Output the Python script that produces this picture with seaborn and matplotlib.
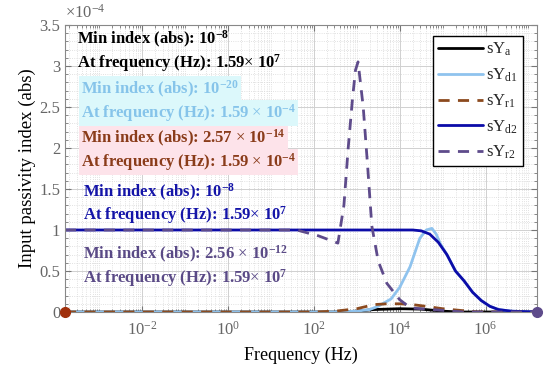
import numpy as np
import pandas as pd
import matplotlib
matplotlib.use('Agg')
import matplotlib.pyplot as plt
import seaborn as sns
from matplotlib.ticker import LogLocator, NullFormatter, MultipleLocator, FixedLocator

# Données (valeurs en unités de 1e-4, fréquences en log10(Hz))
exp_a = [-3.8, 2.5, 3.0, 3.4, 4.0, 4.5, 5.0, 5.4, 7.2]
val_a = [0, 0, 0.01, 0.03, 0.04, 0.035, 0.01, 0, 0]

exp_d1 = [-3.8, 2.5, 3.0, 3.3, 3.5, 3.8, 4.0, 4.24, 4.47, 4.62, 4.75, 4.85, 4.95,
          5.1, 5.3, 5.5, 5.7, 5.9, 6.1, 6.3, 6.6, 7.2]
val_d1 = [0, 0, 0.01, 0.03, 0.07, 0.16, 0.3, 0.55, 0.9, 1.0, 1.02, 0.95, 0.83,
          0.7, 0.5, 0.38, 0.24, 0.14, 0.07, 0.03, 0.01, 0]

exp_r1 = [-3.8, 2.0, 2.5, 3.0, 3.4, 3.7, 4.0, 4.3, 4.6, 5.0, 5.4, 5.8, 7.2]
val_r1 = [0, 0, 0.01, 0.04, 0.09, 0.1, 0.1, 0.09, 0.07, 0.04, 0.02, 0, 0]

exp_d2 = [-3.8, 4.3, 4.5, 4.7, 4.9, 5.1, 5.3, 5.5, 5.7, 5.9, 6.1, 6.3, 6.6, 7.2]
val_d2 = [1.0, 1.0, 0.99, 0.95, 0.85, 0.7, 0.5, 0.38, 0.24, 0.14, 0.07, 0.03, 0.01, 0]

exp_r2 = [-3.8, 1.6, 2.1, 2.56, 2.7, 2.8, 2.9, 2.97, 3.03, 3.15, 3.25, 3.35, 3.5,
          3.7, 4.0, 4.25, 5.0, 5.5, 7.2]
val_r2 = [1.0, 1.0, 0.93, 0.84, 1.3, 2.0, 2.6, 2.95, 3.05, 2.5, 1.8, 1.05, 0.62,
          0.35, 0.15, 0.05, 0.02, 0, 0]

labels = [r'sY$_{\mathrm{a}}$', r'sY$_{\mathrm{d1}}$', r'sY$_{\mathrm{r1}}$',
          r'sY$_{\mathrm{d2}}$', r'sY$_{\mathrm{r2}}$']
colors = ['#000000', '#8fc3ee', '#8c4a1e', '#0c0ca8', '#5e4b8b']
xticks = [1e-2, 1e0, 1e2, 1e4, 1e6]

# Annotations : (texte, couleur, fond)
notes = [
    (r'Min index (abs): 10$^{\mathbf{-8}}$', '#000000', None),
    (r'At frequency (Hz): 1.59$\times$ 10$^{\mathbf{7}}$', '#000000', None),
    (r'Min index (abs): 10$^{\mathbf{-20}}$', '#86c4ea', '#dcf8fb'),
    (r'At frequency (Hz): 1.59 $\times$ 10$^{\mathbf{-4}}$', '#86c4ea', '#dcf8fb'),
    (r'Min index (abs): 2.57 $\times$ 10$^{\mathbf{-14}}$', '#8a3c1a', '#fde3ea'),
    (r'At frequency (Hz): 1.59 $\times$ 10$^{\mathbf{-4}}$', '#8a3c1a', '#fde3ea'),
    (r'Min index (abs): 10$^{\mathbf{-8}}$', '#1414a8', None),
    (r'At frequency (Hz): 1.59$\times$ 10$^{\mathbf{7}}$', '#1414a8', None),
    (r'Min index (abs): 2.56 $\times$ 10$^{\mathbf{-12}}$', '#5a4a86', None),
    (r'At frequency (Hz): 1.59$\times$ 10$^{\mathbf{7}}$', '#5a4a86', None),
]
note_x = [0.025, 0.025, 0.034, 0.034, 0.034, 0.034, 0.038, 0.038, 0.038, 0.038]
note_y = [0.948, 0.868, 0.777, 0.693, 0.606, 0.523, 0.415, 0.338, 0.199, 0.118]

# Configuration
sns.set_style('ticks')
plt.rcParams['font.family'] = ['Liberation Serif', 'DejaVu Serif']
plt.rcParams['mathtext.fontset'] = 'custom'
plt.rcParams['mathtext.rm'] = 'Liberation Serif'
plt.rcParams['mathtext.it'] = 'Liberation Serif:italic'
plt.rcParams['mathtext.bf'] = 'Liberation Serif:bold'

fig, ax = plt.subplots(figsize=(5.5, 3.77), dpi=100)
fig.subplots_adjust(left=65/550, right=537/550, top=1-25/377, bottom=1-312/377)

series = [(exp_a, val_a), (exp_d1, val_d1), (exp_r1, val_r1), (exp_d2, val_d2), (exp_r2, val_r2)]
styles = ['-', '-', (0, (4, 3)), '-', (0, (4, 3))]
for (e, v), lab, col, ls in zip(series, labels, colors, styles):
    df = pd.DataFrame({'f': 10.0 ** np.array(e), 'v': v})
    sns.lineplot(data=df, x='f', y='v', ax=ax, color=col, lw=2, linestyle=ls,
                 label=lab, sort=False, estimator=None)

# Points des minima
ax.plot([10 ** -3.8], [0], 'o', color='#a0300c', ms=7, clip_on=False, zorder=5)
ax.plot([10 ** 7.2], [0], 'o', color='#5e4b8b', ms=7, clip_on=False, zorder=5)

ax.set_xscale('log')
ax.set_xlim(10 ** -3.8, 10 ** 7.2)
ax.set_ylim(0, 3.5)
ax.xaxis.set_major_locator(FixedLocator(xticks))
ax.xaxis.set_minor_locator(LogLocator(base=10, subs=np.arange(1, 10), numticks=50))
ax.xaxis.set_minor_formatter(NullFormatter())
ax.yaxis.set_major_locator(MultipleLocator(0.5))
ax.yaxis.set_minor_locator(MultipleLocator(0.1))
ax.yaxis.set_major_formatter(plt.FuncFormatter(lambda v, p: f'{v:g}'))

ax.grid(which='major', color='#d0d0d0', lw=0.7)
ax.grid(which='minor', color='#d8d8d8', lw=0.6, linestyle=':')
ax.tick_params(which='both', direction='in', top=True, right=True, colors='#777777',
               labelcolor='#666666', labelsize=12)
ax.tick_params(which='major', length=4)
ax.tick_params(which='minor', length=2)
ax.tick_params(axis='x', which='major', pad=6)
for sp in ax.spines.values():
    sp.set_color('#888888')
    sp.set_linewidth(0.8)

ax.set_xlabel('Frequency (Hz)', fontsize=13, color='black', labelpad=6)
ax.set_ylabel('Input passivity index (abs)', fontsize=13.5, color='black', labelpad=2)
ax.text(0.0, 1.012, r'$\times$10$^{-4}$', transform=ax.transAxes, fontsize=12,
        color='#666666', ha='left', va='bottom')

for (txt, col, bg), xx, yy in zip(notes, note_x, note_y):
    kw = {}
    if bg is not None:
        kw['bbox'] = dict(facecolor=bg, edgecolor='none', pad=1.5)
    ax.text(xx, yy, txt, transform=ax.transAxes, color=col, fontsize=12,
            fontweight='bold', ha='left', va='center', **kw)

leg = ax.legend(loc='upper right', bbox_to_anchor=(0.97, 0.962), fontsize=12,
                frameon=True, fancybox=False, edgecolor='black', handlelength=2.7,
                labelspacing=0.5, borderpad=0.3, handletextpad=0.2,
                borderaxespad=0)
leg.get_frame().set_linewidth(1.0)
leg.get_frame().set_alpha(1)

fig.savefig('out.png', dpi=100)
